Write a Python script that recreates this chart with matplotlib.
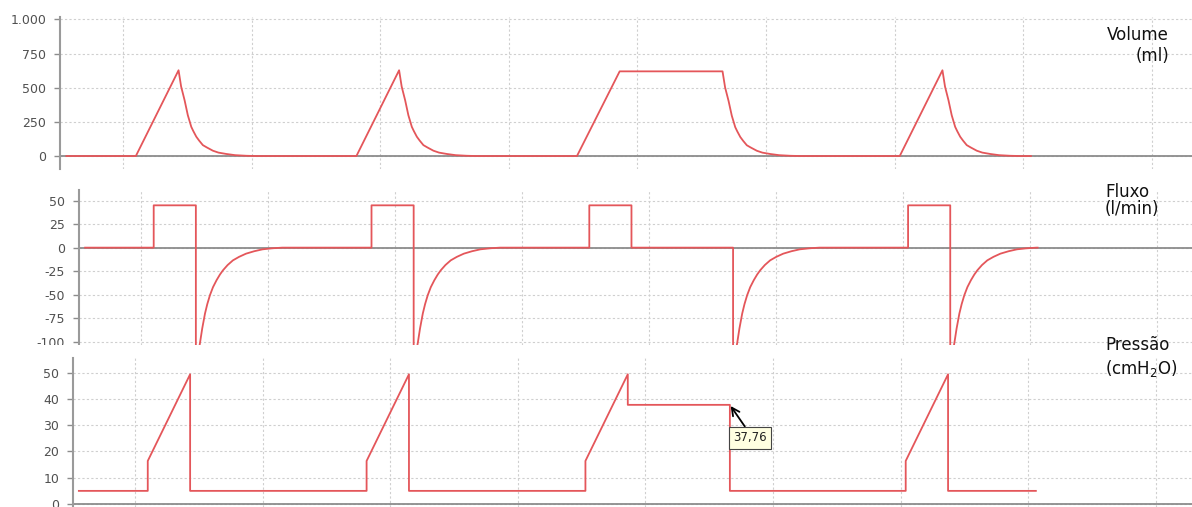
import matplotlib
matplotlib.use('agg')
import matplotlib.pyplot as plt
from matplotlib.patches import Rectangle

# ciclos respiratorios (tempo em s, grade vertical a cada 1 s)
insp_start = [1.10, 2.815, 4.53, 7.04]
insp_time = 0.332
pause_time = [0.0, 0.0, 0.80, 0.0]
t_first = 0.56
t_last = 8.06

vol_peak = [628, 628, 620, 628]
flow_insp = 45
peep = 5
press_step = 16.4
press_peak = 49.4
press_plateau = [None, None, 37.76, None]

# curvas expiratorias (tempo apos abertura da valvula)
vol_decay_dt = [0, 0.02, 0.047, 0.072, 0.099, 0.115, 0.138, 0.16, 0.189, 0.22,
                0.267, 0.31, 0.371, 0.44, 0.526, 0.6]
vol_decay_frac = [1, 0.81, 0.65, 0.476, 0.34, 0.29, 0.225, 0.18, 0.127, 0.10,
                  0.062, 0.04, 0.024, 0.01, 0.003, 0]
flow_decay_dt = [0, 0.034, 0.05, 0.072, 0.09, 0.111, 0.135, 0.163, 0.19, 0.214,
                 0.25, 0.292, 0.34, 0.395, 0.46, 0.525, 0.6, 0.68]
flow_decay_val = [-128, -100, -86, -70, -60, -50.5, -42, -34.6, -28.5, -24,
                  -18.5, -13.5, -9.8, -6.4, -3.8, -1.8, -0.7, 0]

vol_ticks = [0, 250, 500, 750, 1000]
vol_labels = ['0', '250', '500', '750', '1.000']
flow_ticks = [-100, -75, -50, -25, 0, 25, 50]
press_ticks = [0, 10, 20, 30, 40, 50]
grid_seconds = [1, 2, 3, 4, 5, 6, 7, 8, 9]

# montar as curvas
tv, vv = [t_first], [0]
tf, ff = [t_first], [0]
tp, pp = [t_first], [peep]
for i, t0 in enumerate(insp_start):
    t1 = t0 + insp_time
    t2 = t1 + pause_time[i]
    # volume
    tv += [t0, t1, t2]
    vv += [0, vol_peak[i], vol_peak[i]]
    for dt, fr in zip(vol_decay_dt, vol_decay_frac):
        tv.append(t2 + dt)
        vv.append(vol_peak[i] * fr)
    # fluxo
    tf += [t0, t0, t1, t1, t2]
    ff += [0, flow_insp, flow_insp, 0, 0]
    for dt, val in zip(flow_decay_dt, flow_decay_val):
        tf.append(t2 + dt)
        ff.append(val)
    # pressao
    tp += [t0, t0, t1]
    pp += [peep, press_step, press_peak]
    if press_plateau[i] is not None:
        tp += [t1, t2]
        pp += [press_plateau[i], press_plateau[i]]
    tp += [t2]
    pp += [peep]
tv.append(max(t_last, tv[-1]))
vv.append(0)
tf.append(max(t_last, tf[-1]))
ff.append(0)
tp.append(t_last)
pp.append(peep)

W, H = 1192, 507
fig = plt.figure(figsize=(W / 100, H / 100), dpi=100)

red = '#e4565a'
gray = '#8c8c8c'
gridc = '#cfcfcf'

# left px, top px, bottom px, px da linha de 1 s, px por segundo
panels = [
    (60, 17, 169, 123, 128.6),
    (79, 190, 344.5, 141, 127.0),
    (73, 358, 507, 135, 127.6),
]
ylims = [(-95, 1018), (-103, 61.3), (-1.14, 55.6)]
yticks = [vol_ticks, flow_ticks, press_ticks]
ylabels = [vol_labels, [str(v) for v in flow_ticks], [str(v) for v in press_ticks]]
series = [(tv, vv), (tf, ff), (tp, pp)]

axes = []
for k, (lp, tpx, bp, g1, ppu) in enumerate(panels):
    ax = fig.add_axes([lp / W, 1 - bp / H, (W - lp) / W, (bp - tpx) / H])
    ax.set_xlim(1 + (lp - g1) / ppu, 1 + (W - g1) / ppu)
    ax.set_ylim(*ylims[k])
    ax.set_xticks(grid_seconds)
    ax.set_yticks(yticks[k])
    ax.set_yticklabels(ylabels[k])
    ax.tick_params(axis='x', length=0, labelbottom=False)
    ax.tick_params(axis='y', length=4, width=1, color=gray, labelsize=9,
                   labelcolor='#505050', pad=6)
    for s in ['top', 'right', 'bottom']:
        ax.spines[s].set_visible(False)
    ax.spines['left'].set_color('#9a9a9a')
    ax.spines['left'].set_linewidth(1.5)
    ax.grid(True, color=gridc, linestyle=(0, (2, 2)), linewidth=0.8)
    ax.set_axisbelow(True)
    ax.axhline(0, color=gray, lw=1.3, zorder=1.5)
    ax.plot(series[k][0], series[k][1], color=red, lw=1.3, zorder=2)
    axes.append(ax)

# corte branco do painel do meio (como na imagem original)
fig.add_artist(Rectangle((0, 0), 1, 1 - 345 / H, transform=fig.transFigure,
                         facecolor='white', edgecolor='none', zorder=1))
axes[2].set_zorder(2)

# valor do plato
t_pl = insp_start[2] + insp_time + pause_time[2]
axes[2].annotate('37,76', xy=(t_pl, press_plateau[2]), xytext=(20, -33),
                 textcoords='offset pixels', ha='center', va='center',
                 fontsize=8.5, color='#222',
                 bbox=dict(boxstyle='square,pad=0.38', fc='#ffffe1', ec='#444', lw=0.8),
                 arrowprops=dict(arrowstyle='->', color='black', lw=1.3,
                                 mutation_scale=14, shrinkA=0, shrinkB=1,
                                 relpos=(0.45, 1)))

# rotulos a direita
fs = 12
fig.text(1169 / W, 1 - 40 / H, 'Volume', ha='right', va='baseline', fontsize=fs, color='#111')
fig.text(1169 / W, 1 - 61 / H, '(ml)', ha='right', va='baseline', fontsize=fs, color='#111')
fig.text(1105 / W, 1 - 197 / H, 'Fluxo', ha='left', va='baseline', fontsize=fs, color='#111')
fig.text(1105 / W, 1 - 214 / H, '(l/min)', ha='left', va='baseline', fontsize=fs, color='#111')
fig.text(1105 / W, 1 - 350 / H, 'Pressão', ha='left', va='baseline', fontsize=fs, color='#111')
fig.text(1105 / W, 1 - 374 / H, '(cmH$_2$O)', ha='left', va='baseline', fontsize=fs, color='#111')

fig.savefig('out.png', dpi=100, facecolor='white')
